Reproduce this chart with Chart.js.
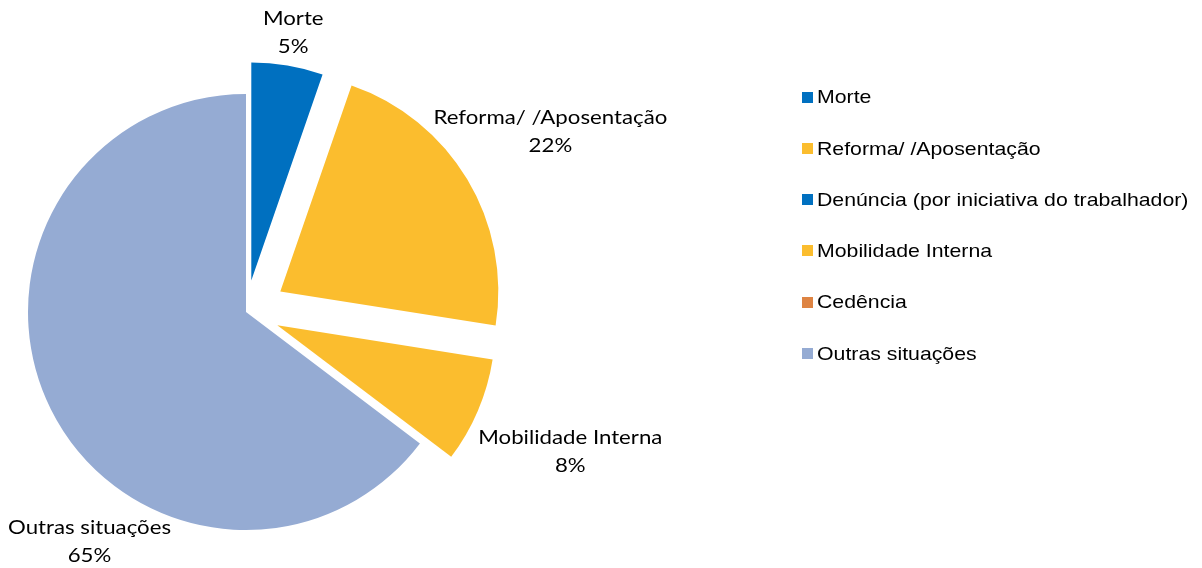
<!DOCTYPE html>
<html>
<head>
<meta charset="utf-8">
<script src="https://cdn.jsdelivr.net/npm/chart.js"></script>
<style>
  html, body { margin: 0; padding: 0; background: #fff; }
  #wrap { width: 1202px; height: 568px; }
</style>
</head>
<body>
<div id="wrap"><canvas id="chart" width="1202" height="568"></canvas></div>
<script>
// data
const categories = [
  'Morte',
  'Reforma/ /Aposentação',
  'Denúncia (por iniciativa do trabalhador)',
  'Mobilidade Interna',
  'Cedência',
  'Outras situações'
];
const shares = [5.3, 22.2, 0, 7.8, 0, 64.7];
const sliceColors = ['#0070C0', '#FBBD2E', '#0070C0', '#FBBD2E', '#DE8443', '#95ABD3'];
// how far each slice is pulled out of the pie (px)
const explode = [32, 40, 0, 34, 0, 0];

// text in the reference is a bit wider than the fonts we have
const labelStretch = 1.17;
const legendStretch = 1.12;

function stretchedText(ctx, text, x, y, sx) {
  ctx.save();
  ctx.translate(x, y);
  ctx.scale(sx, 1);
  ctx.fillText(text, 0, 0);
  ctx.restore();
}

// pull slices out along their middle angle
const explodeSlices = {
  id: 'explodeSlices',
  afterDatasetUpdate(chart, args) {
    args.meta.data.forEach((arc, i) => {
      const d = explode[i] || 0;
      if (!d) return;
      const mid = (arc.startAngle + arc.endAngle) / 2;
      arc.x += Math.cos(mid) * d;
      arc.y += Math.sin(mid) * d;
    });
  }
};

// "Name / xx%" labels outside each slice
const sliceLabels = {
  id: 'sliceLabels',
  afterDatasetsDraw(chart) {
    const ctx = chart.ctx;
    const meta = chart.getDatasetMeta(0);
    const total = shares.reduce((a, b) => a + b, 0);
    const lineH = 28, gap = 5;
    const W = chart.width, H = chart.height;
    ctx.save();
    ctx.font = '19px Lato';
    ctx.fillStyle = '#000';
    ctx.textAlign = 'center';
    ctx.textBaseline = 'middle';

    // distance from the slice centre to the nearest text line of a label
    const labelDist = (cx, cy, bx, by, halfW, hh) => {
      let best = Infinity;
      halfW.forEach((hw, j) => {
        const ly = by - hh + lineH / 2 + j * lineH;
        const dx = Math.max(Math.abs(bx - cx) - hw, 0);
        const dy = Math.max(Math.abs(ly - cy) - lineH / 2, 0);
        best = Math.min(best, Math.hypot(dx, dy));
      });
      return best;
    };
    const place = (cx, cy, r, a, halfW, hh) => {
      let lo = 0, hi = 1200;
      for (let n = 0; n < 40; n++) {
        const t = (lo + hi) / 2;
        const bx = cx + Math.cos(a) * t, by = cy + Math.sin(a) * t;
        if (labelDist(cx, cy, bx, by, halfW, hh) < r) lo = t; else hi = t;
      }
      return { x: cx + Math.cos(a) * hi, y: cy + Math.sin(a) * hi };
    };

    meta.data.forEach((arc, i) => {
      if (!shares[i]) return;
      const lines = [categories[i], Math.round(shares[i] / total * 100) + '%'];
      const halfW = lines.map(t => ctx.measureText(t).width * labelStretch / 2);
      const hw = Math.max(...halfW);
      const hh = lineH * lines.length / 2;
      const mid = (arc.startAngle + arc.endAngle) / 2;
      const r = arc.outerRadius + gap;
      let best = null;
      for (let k = 0; k <= 45; k++) {
        for (const s of (k ? [-1, 1] : [1])) {
          const a = mid + s * k * Math.PI / 180;
          const p = place(arc.x, arc.y, r, a, halfW, hh);
          // keep the label inside the canvas
          p.x = Math.min(Math.max(p.x, hw + 8), W - hw - 2);
          p.y = Math.min(Math.max(p.y, hh), H - hh);
          const inside = Math.max(0, r - labelDist(arc.x, arc.y, p.x, p.y, halfW, hh));
          if (!best || inside < best.inside - 0.01) best = { x: p.x, y: p.y, inside };
        }
        if (best && best.inside === 0) break;
      }
      lines.forEach((t, j) => {
        stretchedText(ctx, t, best.x, best.y - hh + lineH / 2 + j * lineH + 2, labelStretch);
      });
    });
    ctx.restore();
  }
};

// legend on the right
const sideLegend = {
  id: 'sideLegend',
  afterDraw(chart) {
    const ctx = chart.ctx;
    const left = 802, top = 97, step = 51.3, box = 11;
    ctx.save();
    ctx.font = '19px "Liberation Sans", Arial, sans-serif';
    ctx.textBaseline = 'middle';
    ctx.textAlign = 'left';
    categories.forEach((name, i) => {
      const y = top + i * step;
      ctx.fillStyle = sliceColors[i];
      ctx.fillRect(left, Math.round(y - box / 2), box, box);
      ctx.fillStyle = '#000';
      stretchedText(ctx, name, left + box + 4, y + 1, legendStretch);
    });
    ctx.restore();
  }
};

const ctx = document.getElementById('chart').getContext('2d');
new Chart(ctx, {
  type: 'pie',
  data: {
    labels: categories,
    datasets: [{
      data: shares,
      backgroundColor: sliceColors,
      borderWidth: 0,
      clip: false
    }]
  },
  options: {
    responsive: false,
    animation: false,
    radius: 218,
    layout: {
      padding: { left: 0, top: 56, right: 710, bottom: 0 }
    },
    plugins: {
      legend: { display: false },
      tooltip: { enabled: false }
    }
  },
  plugins: [explodeSlices, sliceLabels, sideLegend]
});
</script>
</body>
</html>
